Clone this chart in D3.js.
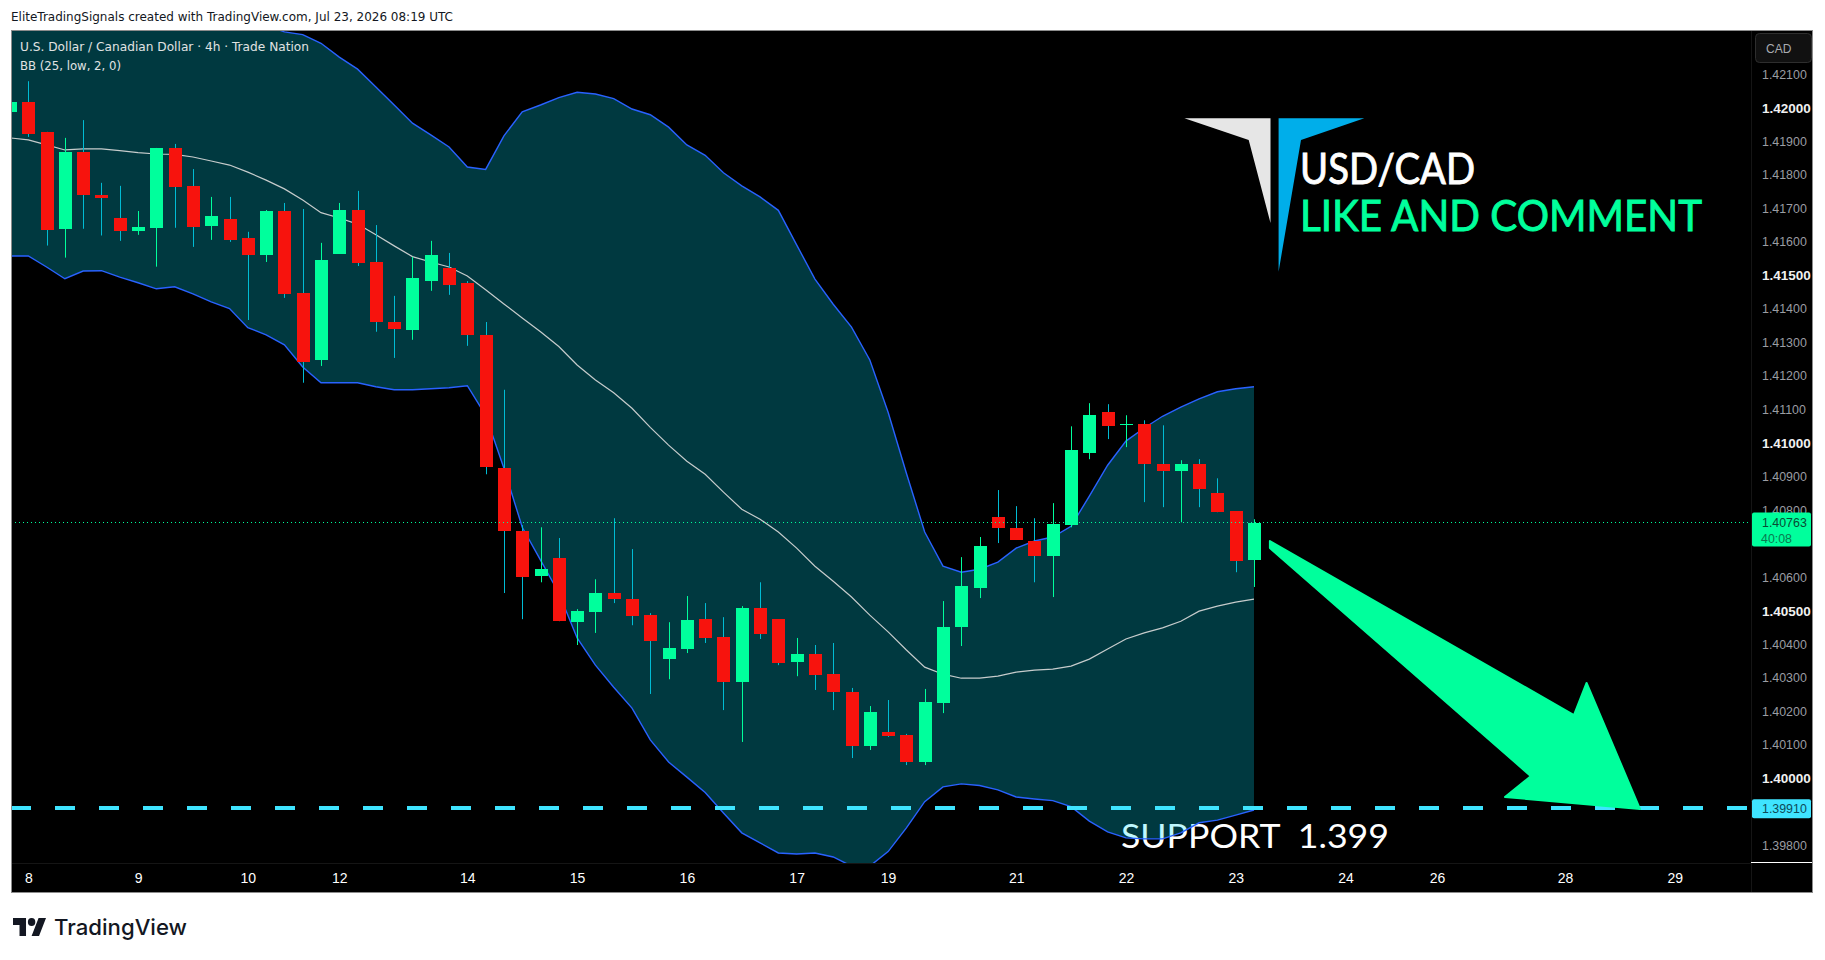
<!DOCTYPE html>
<html>
<head>
<meta charset="utf-8">
<script src="https://cdnjs.cloudflare.com/ajax/libs/d3/7.8.5/d3.min.js"></script>
<style>
html,body{margin:0;padding:0;background:#fff;overflow:hidden}
svg{display:block}
</style>
</head>
<body>
<svg id="chart" width="1825" height="960"></svg>
<script>
// 4h bars, left to right
const opens = [1.41987,1.42017,1.41928,1.41639,1.41868,1.41740,1.41671,1.41633,1.41642,1.41880,
1.41767,1.41647,1.41668,1.41612,1.41561,1.41692,1.41448,1.41248,1.41564,1.41695,
1.41540,1.41361,1.41338,1.41483,1.41522,1.41478,1.41323,1.40925,1.40738,1.40603,
1.40657,1.40466,1.40496,1.40553,1.40535,1.40487,1.40356,1.40386,1.40475,1.40422,
1.40287,1.40508,1.40475,1.40347,1.40371,1.40311,1.40258,1.40097,1.40139,1.40130,
1.40049,1.40225,1.40451,1.40568,1.40779,1.40747,1.40708,1.40663,1.40755,1.40970,
1.41092,1.41053,1.41056,1.40937,1.40916,1.40937,1.40851,1.40797,1.40651];
const highs = [1.42017,1.42079,1.41928,1.41910,1.41963,1.41776,1.41767,1.41692,1.41880,1.41892,
1.41817,1.41734,1.41734,1.41630,1.41695,1.41716,1.41698,1.41597,1.41716,1.41752,
1.41650,1.41439,1.41555,1.41603,1.41567,1.41483,1.41361,1.41159,1.40755,1.40749,
1.40717,1.40505,1.40594,1.40776,1.40684,1.40493,1.40466,1.40544,1.40523,1.40481,
1.40514,1.40585,1.40475,1.40419,1.40398,1.40404,1.40270,1.40216,1.40234,1.40133,
1.40267,1.40529,1.40660,1.40720,1.40860,1.40812,1.40776,1.40821,1.41050,1.41119,
1.41116,1.41083,1.41068,1.41053,1.40949,1.40952,1.40895,1.40797,1.40773];
const lows = [1.41987,1.41913,1.41589,1.41553,1.41639,1.41619,1.41603,1.41621,1.41526,1.41642,
1.41585,1.41606,1.41600,1.41367,1.41540,1.41433,1.41180,1.41230,1.41564,1.41528,
1.41332,1.41254,1.41308,1.41454,1.41442,1.41290,1.40907,1.40553,1.40475,1.40585,
1.40469,1.40398,1.40434,1.40523,1.40457,1.40252,1.40296,1.40374,1.40404,1.40204,
1.40109,1.40416,1.40338,1.40305,1.40264,1.40204,1.40061,1.40085,1.40124,1.40040,
1.40040,1.40195,1.40395,1.40538,1.40702,1.40711,1.40585,1.40541,1.40749,1.40952,
1.41012,1.40988,1.40824,1.40809,1.40764,1.40809,1.40794,1.40615,1.40571];
const closes = [1.42017,1.41923,1.41636,1.41868,1.41740,1.41731,1.41633,1.41644,1.41880,1.41764,
1.41644,1.41677,1.41606,1.41561,1.41692,1.41445,1.41242,1.41546,1.41695,1.41537,
1.41361,1.41341,1.41493,1.41561,1.41472,1.41323,1.40928,1.40738,1.40600,1.40624,
1.40469,1.40499,1.40553,1.40535,1.40484,1.40410,1.40389,1.40472,1.40419,1.40287,
1.40508,1.40431,1.40344,1.40371,1.40308,1.40258,1.40097,1.40198,1.40127,1.40049,
1.40228,1.40451,1.40574,1.40693,1.40747,1.40711,1.40663,1.40758,1.40979,1.41083,
1.41050,1.41056,1.40937,1.40916,1.40937,1.40863,1.40794,1.40648,1.40763];

// Bollinger Bands (25, low, 2, 0)
const bbUpper = [1.42261,1.42249,1.42252,1.42258,1.42240,1.42240,1.42252,1.42252,1.42264,1.42258,
1.42261,1.42261,1.42258,1.42273,1.42246,1.42226,1.42218,1.42192,1.42151,1.42115,
1.42062,1.42008,1.41954,1.41919,1.41883,1.41823,1.41816,1.41916,1.41988,1.42008,
1.42030,1.42046,1.42041,1.42027,1.41996,1.41979,1.41942,1.41889,1.41858,1.41806,
1.41767,1.41734,1.41694,1.41591,1.41489,1.41414,1.41346,1.41248,1.41092,1.40910,
1.40735,1.40633,1.40615,1.40624,1.40645,1.40687,1.40708,1.40720,1.40752,1.40842,
1.40934,1.41006,1.41045,1.41080,1.41107,1.41132,1.41153,1.41162,1.41168];
const bbBasis = [1.41910,1.41904,1.41889,1.41874,1.41877,1.41877,1.41872,1.41866,1.41862,1.41861,
1.41853,1.41841,1.41829,1.41808,1.41784,1.41758,1.41725,1.41687,1.41671,1.41653,
1.41621,1.41588,1.41556,1.41540,1.41525,1.41498,1.41457,1.41415,1.41373,1.41332,
1.41288,1.41233,1.41188,1.41150,1.41104,1.41047,1.40994,1.40946,1.40907,1.40854,
1.40803,1.40773,1.40735,1.40687,1.40633,1.40588,1.40541,1.40487,1.40437,1.40383,
1.40332,1.40311,1.40299,1.40299,1.40305,1.40317,1.40323,1.40326,1.40335,1.40356,
1.40386,1.40416,1.40434,1.40449,1.40469,1.40499,1.40514,1.40526,1.40535];
const bbLower = [1.41558,1.41558,1.41525,1.41490,1.41513,1.41514,1.41495,1.41478,1.41460,1.41466,
1.41445,1.41421,1.41401,1.41344,1.41323,1.41293,1.41227,1.41180,1.41180,1.41180,
1.41168,1.41159,1.41159,1.41162,1.41165,1.41171,1.41083,1.40925,1.40749,1.40651,
1.40553,1.40419,1.40338,1.40272,1.40210,1.40115,1.40049,1.40004,1.39958,1.39897,
1.39838,1.39808,1.39778,1.39775,1.39778,1.39766,1.39739,1.39739,1.39782,1.39853,
1.39931,1.39975,1.39984,1.39979,1.39966,1.39945,1.39939,1.39934,1.39916,1.39873,
1.39841,1.39823,1.39820,1.39820,1.39838,1.39868,1.39876,1.39891,1.39906];

const priceTicks = [1.421,1.420,1.419,1.418,1.417,1.416,1.415,1.414,1.413,1.412,1.411,1.410,1.409,1.408,1.406,1.405,1.404,1.403,1.402,1.401,1.400,1.398];
const majorTicks = ["1.42000","1.41500","1.41000","1.40500","1.40000"];
const timeTickBars = [1,7,13,18,25,31,37,43,48,55,61,67,73,78,85,91];
const timeTickLabels = ["8","9","10","12","14","15","16","17","19","21","22","23","24","26","28","29"];
const lastPrice = 1.40763;
const countdown = "40:08";
const supportPrice = 1.39910;
// arrow annotation, anchored as [bar, price]
const arrowShape = [[68.87,1.40708],[85.49,1.40189],[86.18,1.40285],[89.10,1.39909],[81.72,1.39945],[83.14,1.40007],[68.87,1.40687]];

const svg = d3.select("#chart");
const x = d3.scaleLinear().domain([0,91]).range([10,1674.75]);
const y = d3.scaleLinear().domain([1.42,1.40]).range([107.7,778.5]);
const sharp = v => Math.round(v)+0.5;
const bars = opens.map((o,i)=>({i,o,h:highs[i],l:lows[i],c:closes[i]}));

const UP="#00ff9c", DOWN="#f7130d", WICK_DOWN="#00bcd4", BAND_LINE="#2962ff";

svg.append("rect").attr("x",11).attr("y",30).attr("width",1802).attr("height",863).attr("fill","#000");

const defs = svg.append("defs");
defs.append("clipPath").attr("id","pane").append("rect").attr("x",11).attr("y",31).attr("width",1740).attr("height",832);
const pane = svg.append("g").attr("clip-path","url(#pane)");

// text sits under the band fill, as in the reference
pane.append("text").text("SUPPORT  1.399").attr("xml:space","preserve").style("white-space","pre")
  .attr("x",1121).attr("y",848).attr("textLength",268).attr("lengthAdjust","spacingAndGlyphs")
  .attr("font-family","Lato, 'Open Sans', sans-serif").attr("font-size",33).attr("fill","#fff");

const idx = bars.map(b=>b.i);
pane.append("path").datum(idx)
  .attr("d",d3.area().x(i=>x(i)).y0(i=>y(bbLower[i])).y1(i=>y(bbUpper[i])))
  .attr("fill","#00e5ff").attr("fill-opacity",0.25);
const line = arr => d3.line().x(i=>x(i)).y(i=>y(arr[i]));
pane.append("path").datum(idx).attr("d",line(bbUpper)).attr("fill","none").attr("stroke",BAND_LINE).attr("stroke-width",1.4);
pane.append("path").datum(idx).attr("d",line(bbLower)).attr("fill","none").attr("stroke",BAND_LINE).attr("stroke-width",1.4);
pane.append("path").datum(idx).attr("d",line(bbBasis)).attr("fill","none").attr("stroke","#c6cccc").attr("stroke-width",1.2);

// candles
const cg = pane.append("g").selectAll("g").data(bars).join("g");
cg.append("line")
  .attr("x1",d=>sharp(x(d.i))).attr("x2",d=>sharp(x(d.i)))
  .attr("y1",d=>y(d.h)).attr("y2",d=>y(d.l))
  .attr("stroke",d=>d.c>=d.o?UP:WICK_DOWN).attr("stroke-width",1);
cg.append("rect")
  .attr("x",d=>Math.round(x(d.i))-6).attr("width",13)
  .attr("y",d=>Math.round(y(Math.max(d.o,d.c))))
  .attr("height",d=>Math.max(1,Math.round(y(Math.min(d.o,d.c)))-Math.round(y(Math.max(d.o,d.c)))))
  .attr("fill",d=>d.c>=d.o?UP:DOWN);

// last price dotted line
pane.append("line").attr("x1",11).attr("x2",1750).attr("y1",sharp(y(lastPrice))-1).attr("y2",sharp(y(lastPrice))-1)
  .attr("stroke",UP).attr("stroke-width",1).attr("stroke-dasharray","1 3");

// support line
pane.append("line").attr("x1",11).attr("x2",1751).attr("y1",y(supportPrice)-0.7).attr("y2",y(supportPrice)-0.7)
  .attr("stroke","#3fe4ff").attr("stroke-width",4).attr("stroke-dasharray","20 24");

// arrow
svg.append("path").datum(arrowShape)
  .attr("d",d3.line().x(d=>x(d[0])).y(d=>y(d[1])).curve(d3.curveLinearClosed))
  .attr("fill",UP).attr("stroke",UP).attr("stroke-width",2).attr("stroke-linejoin","round");

// logo
svg.append("polygon").attr("points","1184.4,118.3 1270.5,118.3 1270.5,223 1248.7,140").attr("fill","#e6e6e6");
svg.append("polygon").attr("points","1278.6,118.3 1364.3,118.3 1301,140 1278.6,271.7").attr("fill","#00aeea");
svg.append("text").text("USD/CAD").attr("x",1300).attr("y",183.5).attr("textLength",175).attr("lengthAdjust","spacingAndGlyphs")
  .attr("font-family","Lato, sans-serif").attr("font-size",42).attr("fill","#fff").attr("stroke","#fff").attr("stroke-width",0.9);
svg.append("text").text("LIKE AND COMMENT").attr("x",1300).attr("y",231).attr("textLength",402).attr("lengthAdjust","spacingAndGlyphs")
  .attr("font-family","Lato, sans-serif").attr("font-size",42).attr("fill",UP).attr("stroke",UP).attr("stroke-width",0.9);

// legend + header
const sans = "'DejaVu Sans', sans-serif";
svg.append("text").text("U.S. Dollar / Canadian Dollar · 4h · Trade Nation").attr("x",20).attr("y",51).attr("textLength",289).attr("lengthAdjust","spacingAndGlyphs")
  .attr("font-family",sans).attr("font-size",12).attr("fill","#e0e3e3");
svg.append("text").text("BB (25, low, 2, 0)").attr("x",20).attr("y",70).attr("textLength",101).attr("lengthAdjust","spacingAndGlyphs")
  .attr("font-family",sans).attr("font-size",12).attr("fill","#e0e3e3");
svg.append("text").text("EliteTradingSignals created with TradingView.com, Jul 23, 2026 08:19 UTC").attr("x",11).attr("y",21).attr("textLength",442).attr("lengthAdjust","spacingAndGlyphs")
  .attr("font-family",sans).attr("font-size",12).attr("fill","#131722");

// axes
const sep = "#151515";
svg.append("line").attr("x1",1751.5).attr("x2",1751.5).attr("y1",31).attr("y2",893).attr("stroke",sep);
svg.append("line").attr("x1",11).attr("x2",1751).attr("y1",863.5).attr("y2",863.5).attr("stroke",sep);
svg.append("line").attr("x1",1751).attr("x2",1813).attr("y1",862.5).attr("y2",862.5).attr("stroke","#fff");

const yAxis = svg.append("g").attr("transform","translate(1751,0)")
  .call(d3.axisRight(y).tickValues(priceTicks).tickFormat(d3.format(".5f")).tickSize(0).tickPadding(11));
yAxis.select(".domain").remove();
yAxis.selectAll("text").attr("font-family","'Liberation Sans', Arial, sans-serif")
  .attr("font-size",d=>majorTicks.includes(d3.format(".5f")(d))?13.5:12.4)
  .attr("font-weight",d=>majorTicks.includes(d3.format(".5f")(d))?700:400)
  .attr("fill",d=>majorTicks.includes(d3.format(".5f")(d))?"#f0f0f0":"#9a9da3");

const xAxis = svg.append("g").attr("transform","translate(0,863)")
  .call(d3.axisBottom(x).tickValues(timeTickBars).tickFormat((d,i)=>timeTickLabels[i]).tickSize(0).tickPadding(10));
xAxis.select(".domain").remove();
xAxis.selectAll("text").attr("font-family","'Liberation Sans', Arial, sans-serif").attr("font-size",14).attr("fill","#fff");

// frame
svg.append("rect").attr("x",11.5).attr("y",30.5).attr("width",1801).attr("height",862).attr("fill","none").attr("stroke","#8c8c8c");

// CAD button
svg.append("rect").attr("x",1755.5).attr("y",33.5).attr("width",56).attr("height",29).attr("rx",4).attr("fill","#111").attr("stroke","#2e2e2e");
svg.append("text").text("CAD").attr("x",1766).attr("y",53).attr("font-family","'Liberation Sans', sans-serif").attr("font-size",12).attr("fill","#a8abb0");

// price labels
svg.append("rect").attr("x",1752).attr("y",y(lastPrice)-10).attr("width",59).attr("height",34).attr("rx",2).attr("fill",UP);
svg.append("text").text(d3.format(".5f")(lastPrice)).attr("x",1762).attr("y",y(lastPrice)+4.5)
  .attr("font-family","'Liberation Sans', sans-serif").attr("font-size",12.4).attr("fill","#0a4a33");
svg.append("text").text(countdown).attr("x",1761).attr("y",y(lastPrice)+20)
  .attr("font-family","'Liberation Sans', sans-serif").attr("font-size",12.4).attr("fill","#0a7a50");
svg.append("rect").attr("x",1752).attr("y",y(supportPrice)-9.5).attr("width",59).attr("height",19).attr("rx",2).attr("fill","#3fe4ff");
svg.append("text").text(d3.format(".5f")(supportPrice)).attr("x",1762).attr("y",y(supportPrice)+4.5)
  .attr("font-family","'Liberation Sans', sans-serif").attr("font-size",12.4).attr("fill","#0e4a58");

// TradingView mark
const tv = svg.append("g").attr("transform","translate(13,914) scale(0.93,1)").attr("fill","#131722");
tv.append("path").attr("d","M14 22H7V11H0V4h14v18zM28 22h-8l7.5-18h8L28 22z");
tv.append("circle").attr("cx",20).attr("cy",8).attr("r",4);
svg.append("text").text("TradingView").attr("x",54).attr("y",935).attr("textLength",133).attr("lengthAdjust","spacingAndGlyphs")
  .attr("font-family","Inter, Roboto, sans-serif").attr("font-size",22).attr("font-weight",500).attr("fill","#131722");
</script>
</body>
</html>
